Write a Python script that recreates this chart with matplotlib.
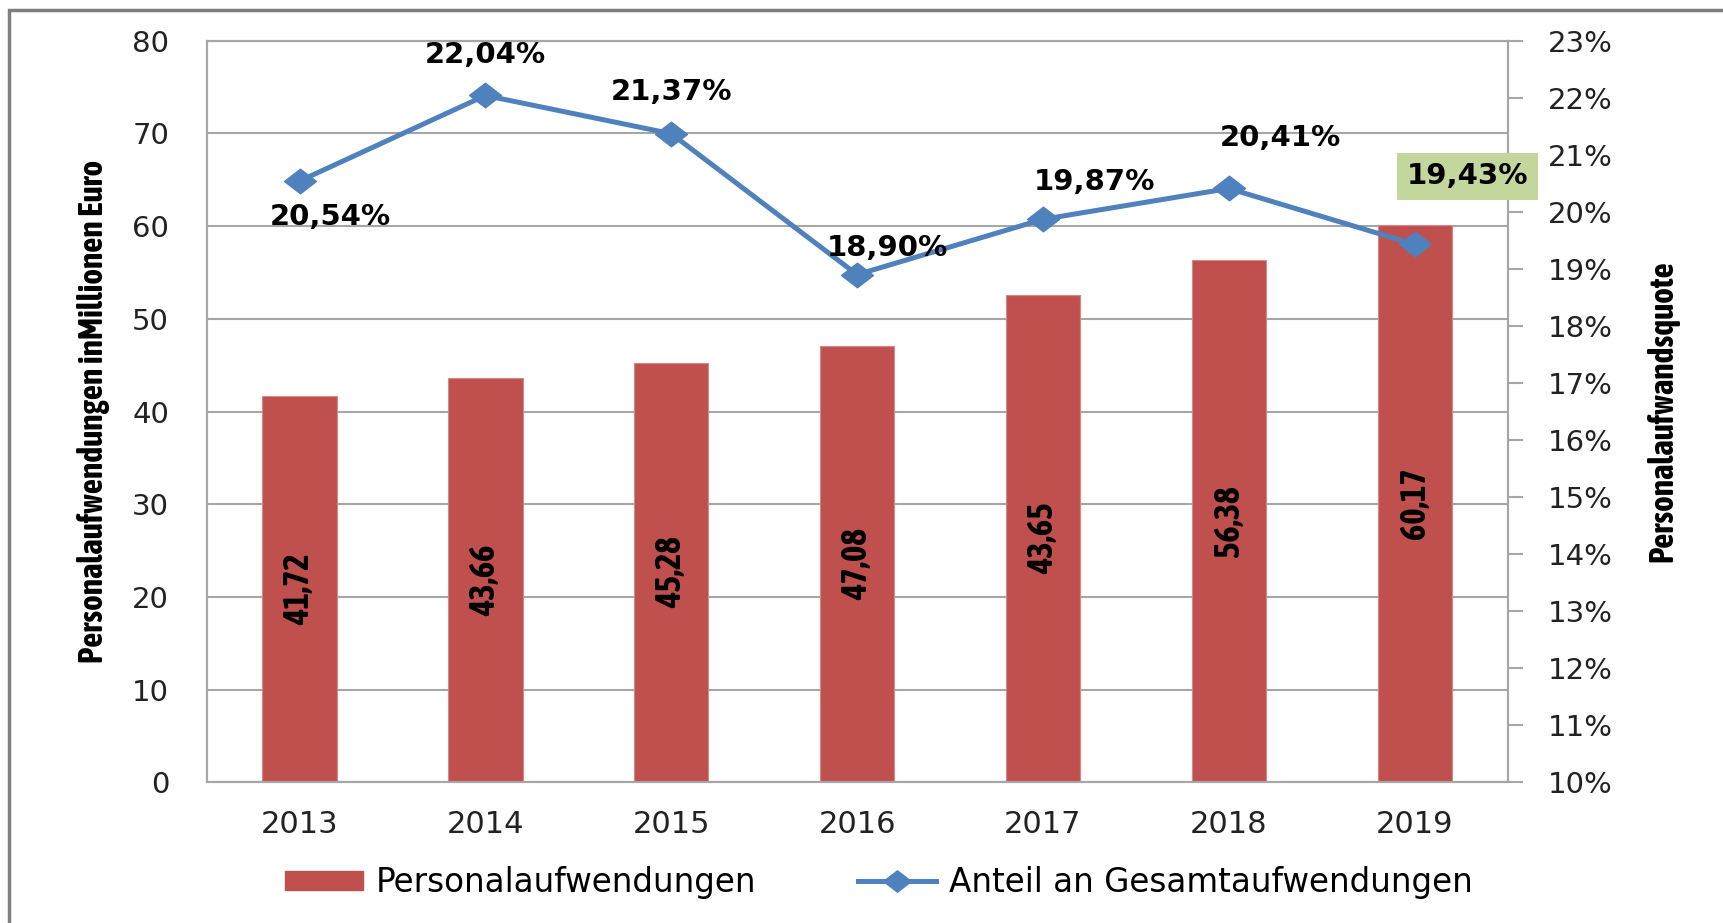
import matplotlib.pyplot as plt
from matplotlib.patches import Rectangle
from matplotlib.lines import Line2D
from matplotlib.ticker import FuncFormatter
import numpy as np

years = ["2013", "2014", "2015", "2016", "2017", "2018", "2019"]
personal = [41.72, 43.66, 45.28, 47.08, 52.6, 56.38, 60.17]
personal_labels = ["41,72", "43,66", "45,28", "47,08", "43,65", "56,38", "60,17"]
quote = [20.54, 22.04, 21.37, 18.90, 19.87, 20.41, 19.43]
quote_labels = ["20,54%", "22,04%", "21,37%", "18,90%", "19,87%", "20,41%", "19,43%"]

bar_color = '#C0504D'
line_color = '#4F81BD'
grid_color = '#A6A6A6'
narrow = ['Asap Condensed', 'DejaVu Sans']

plt.rcParams['font.family'] = 'DejaVu Sans'
fig = plt.figure(figsize=(17.23, 9.23), dpi=100)
ax = fig.add_axes([0.1199, 0.1523, 0.7551, 0.8036])
ax2 = ax.twinx()

x = np.arange(len(years))
ax.bar(x, personal, width=0.4, color=bar_color, edgecolor='#D58886', linewidth=0.8, zorder=2)
for xi, h, lab in zip(x, personal, personal_labels):
    ax.text(xi, h / 2, lab, rotation=90, ha='center', va='center', fontsize=25,
            fontweight='bold', family=narrow, color='black', zorder=3)

ax.set_xlim(-0.5, len(years) - 0.5)
ax.set_ylim(0, 80)
ax.set_yticks(range(0, 81, 10))
ax.set_xticks(x)
ax.set_xticklabels(years)
ax.yaxis.grid(True, color=grid_color, linewidth=1.5, zorder=0)
ax.set_axisbelow(True)
ax.tick_params(axis='y', length=0, pad=27, labelsize=21, colors='#222222')
ax.tick_params(axis='x', length=0, pad=20, labelsize=22, colors='#222222')
ax.set_ylabel("Personalaufwendungen inMillionen Euro", fontsize=24, fontweight='bold',
              family=narrow, labelpad=16)
for s in ax.spines.values():
    s.set_color(grid_color)
    s.set_linewidth(1.5)

diamond = [(-1.3, 0), (0, 1), (1.3, 0), (0, -1), (-1.3, 0)]
ax2.plot(x, quote, color=line_color, linewidth=3.6, marker=diamond, markersize=23,
         markerfacecolor=line_color, markeredgecolor=line_color, zorder=4)
ax2.set_ylim(10, 23)
ax2.set_yticks(range(10, 24))
ax2.yaxis.set_major_formatter(FuncFormatter(lambda v, p: f"{v:.0f}%"))
ax2.tick_params(axis='y', length=11, width=1.5, color=grid_color, pad=18, labelsize=21,
                colors='#222222')
ax2.set_ylabel("Personalaufwandsquote", fontsize=24, fontweight='bold', family=narrow,
               labelpad=24)
for s in ax2.spines.values():
    s.set_color(grid_color)
    s.set_linewidth(1.5)

offsets = [(22, -26), (0, 29), (0, 30), (22, 19), (37, 27), (37, 36), (38, 49)]
for i, (xi, q, lab) in enumerate(zip(x, quote, quote_labels)):
    box = None
    if i == len(years) - 1:
        box = dict(boxstyle='square,pad=0.33', fc='#C3D69B', ec='none')
    ax2.annotate(lab, xy=(xi, q), xytext=offsets[i], textcoords='offset points',
                 ha='center', va='center', fontsize=21, fontweight='bold', color='black',
                 bbox=box, zorder=5)

handles = [Rectangle((0, 0), 1, 1, color=bar_color),
           Line2D([0], [0], color=line_color, linewidth=3.6, marker=diamond, markersize=20)]
fig.legend(handles, ["Personalaufwendungen", "Anteil an Gesamtaufwendungen"],
           loc='center', bbox_to_anchor=(0.51, 0.044), ncol=2, frameon=False,
           fontsize=23.5, handlelength=2.4, handleheight=0.55, handletextpad=0.4,
           columnspacing=3.1)

# outer frame of the original screenshot
fig.patches.append(Rectangle((0.005, -0.1), 1.2, 1.089, transform=fig.transFigure,
                             fill=False, edgecolor='#7F7F7F', linewidth=2.5))

plt.savefig("out.png")
plt.close(fig)
